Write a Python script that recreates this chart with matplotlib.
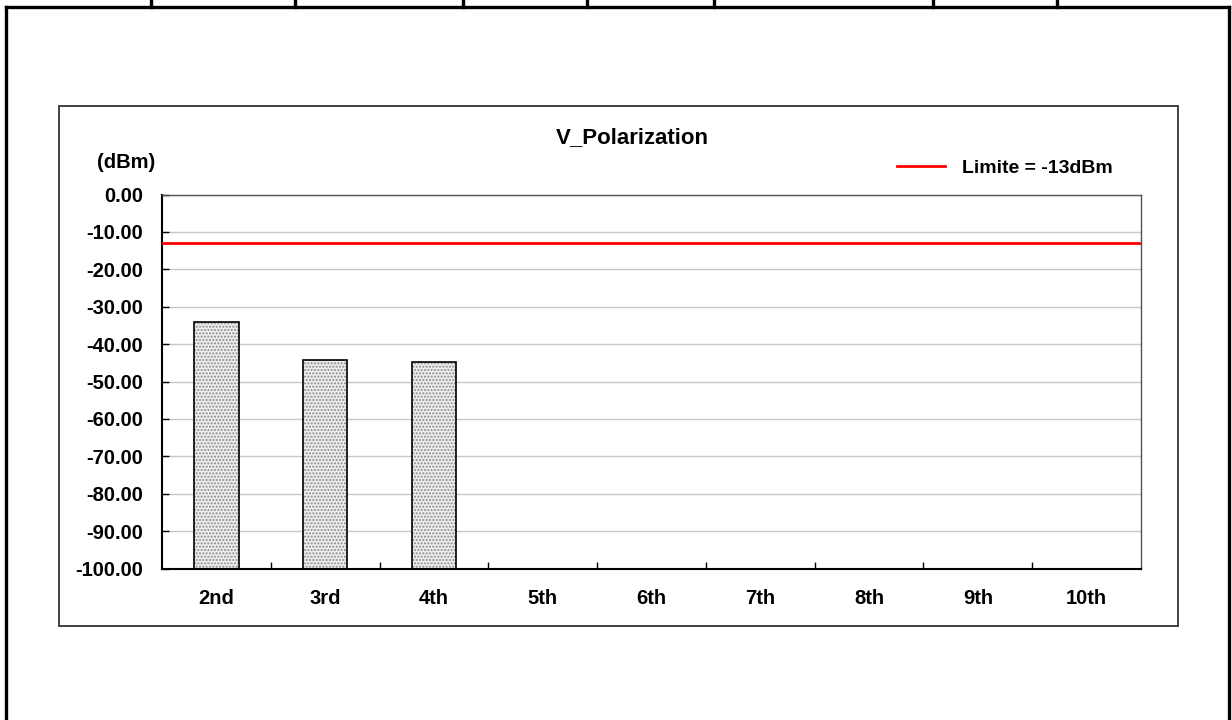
import matplotlib.pyplot as plt
from matplotlib.lines import Line2D

plt.rcParams['font.family'] = ['Liberation Sans', 'DejaVu Sans']
plt.rcParams['font.weight'] = 'bold'

harmonics = ['2nd', '3rd', '4th', '5th', '6th', '7th', '8th', '9th', '10th']
levels = [-34.0, -44.2, -44.8, None, None, None, None, None, None]
limit = -13.0
y_ticks = [0, -10, -20, -30, -40, -50, -60, -70, -80, -90, -100]
title = 'V_Polarization'
limit_label = 'Limite = -13dBm'

fig = plt.figure(figsize=(12.32, 7.2), dpi=100)

# outer table frame
W, H = 1232, 720
def fx(px): return px / W
def fy(py): return 1 - py / H
frame_kw = dict(color='black', linewidth=2.4, transform=fig.transFigure)
fig.add_artist(Line2D([fx(6), fx(6)], [fy(720), fy(7)], **frame_kw))
fig.add_artist(Line2D([fx(1229), fx(1229)], [fy(720), fy(7)], **frame_kw))
fig.add_artist(Line2D([fx(6), fx(1229)], [fy(7), fy(7)], **frame_kw))
for xd in [151, 295, 463, 587, 714, 933, 1057]:
    fig.add_artist(Line2D([fx(xd), fx(xd)], [fy(7), 1.0], **frame_kw))

# chart box
box = plt.Rectangle((fx(59), fy(626)), fx(1178) - fx(59), fy(106) - fy(626),
                    transform=fig.transFigure, fill=False, edgecolor='#333333', linewidth=1.3)
fig.add_artist(box)

ax = fig.add_axes([fx(162), fy(568.5), fx(1141) - fx(162), fy(194.5) - fy(568.5)])

xs = list(range(len(harmonics)))
bx = [x for x, v in zip(xs, levels) if v is not None]
bv = [v for v in levels if v is not None]
heights = [v - (-100) for v in bv]
ax.bar(bx, heights, bottom=-100, width=0.41, color='#eeeeee', edgecolor='#8a8a8a',
       hatch='.....', linewidth=0, zorder=2)
ax.bar(bx, heights, bottom=-100, width=0.41, fill=False, edgecolor='black',
       linewidth=1.2, zorder=3)

ax.axhline(limit, color='#ff0000', linewidth=2, zorder=4, label=limit_label)

ax.set_xlim(-0.5, len(harmonics) - 0.5)
ax.set_ylim(-100, 0)
ax.set_yticks(y_ticks)
ax.set_yticklabels([f'{v:.2f}' for v in y_ticks], fontsize=14.5, fontweight='bold')
ax.set_xticks(xs)
ax.set_xticklabels(harmonics, fontsize=14.5, fontweight='bold')
ax.set_xticks([x + 0.5 for x in xs[:-1]], minor=True)
ax.tick_params(axis='x', which='major', length=0, pad=15)
ax.tick_params(axis='x', which='minor', direction='in', length=5, width=1)
ax.tick_params(axis='y', direction='in', length=5, width=1, pad=13.5)
ax.grid(axis='y', color='#c8c8c8', linewidth=1, zorder=0)
ax.set_axisbelow(True)
for side in ['top', 'right']:
    ax.spines[side].set_color('#555555')
    ax.spines[side].set_linewidth(1)
for side in ['left', 'bottom']:
    ax.spines[side].set_color('black')
    ax.spines[side].set_linewidth(1.5)

fig.text(fx(632), fy(138), title, ha='center', va='center', fontsize=16, fontweight='bold')
fig.text(fx(126), fy(162), '(dBm)', ha='center', va='center', fontsize=14.5, fontweight='bold')

fig.legend(loc='center left', bbox_to_anchor=(fx(897), fy(168)), frameon=False,
           borderaxespad=0, borderpad=0,
           handlelength=2.45, handletextpad=0.87, prop={'size': 14, 'weight': 'bold'})

fig.savefig('out.png', dpi=100)
